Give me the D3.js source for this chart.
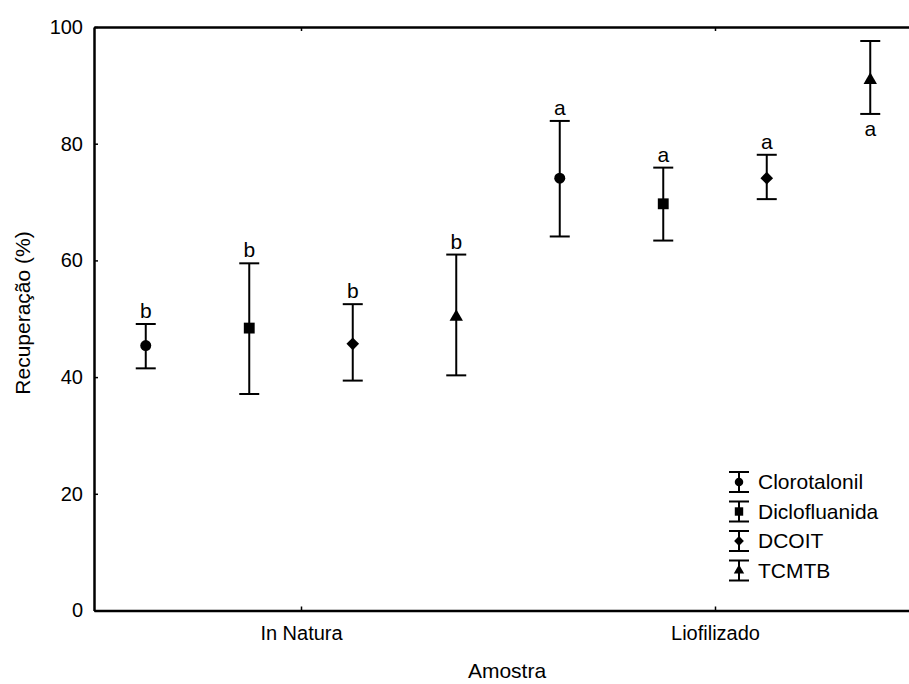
<!DOCTYPE html>
<html>
<head>
<meta charset="utf-8">
<script src="https://cdn.jsdelivr.net/npm/d3@7"></script>
<style>
  body { margin: 0; background: #fff; }
  svg text { font-family: "Liberation Sans", Arial, sans-serif; fill: #000; }
</style>
</head>
<body>
<svg id="chart" width="909" height="684"></svg>
<script>
// categories and series
var groups = ['In Natura', 'Liofilizado'];
var compounds = ['Clorotalonil', 'Diclofluanida', 'DCOIT', 'TCMTB'];
var shapes = ['circle', 'square', 'diamond', 'triangle'];
// mean, lower and upper limits per compound (rows) and group (cols)
var means = [[45.4, 74.1], [48.4, 69.7], [45.7, 74.1], [50.3, 90.9]];
var lowers = [[41.5, 64.1], [37.1, 63.4], [39.4, 70.5], [40.3, 85.1]];
var uppers = [[49.1, 83.9], [59.5, 75.9], [52.5, 78.1], [61.0, 97.6]];
// significance letters
var letters = [['b', 'a'], ['b', 'a'], ['b', 'a'], ['b', 'a']];
var yTicks = [0, 20, 40, 60, 80, 100];

var svg = d3.select('#chart');
var mLeft = 94, mTop = 27, mBottom = 610.5;

var x = d3.scaleLinear().domain([-0.5, 1.5]).range([mLeft, 922]);
var y = d3.scaleLinear().domain([0, 100]).range([mBottom, mTop]);

// flatten data
var data = [];
compounds.forEach(function(c, i) {
  groups.forEach(function(g, j) {
    data.push({ i: i, g: j, pos: j + (i - 1.5) * 0.25, mean: means[i][j],
      lo: lowers[i][j], hi: uppers[i][j], letter: letters[i][j],
      below: (i === 3 && j === 1) });
  });
});

function symbolPath(shape, scale) {
  scale = scale || 1;
  if (shape === 'circle') return d3.symbol(d3.symbolCircle, 95 * scale)();
  if (shape === 'square') return d3.symbol(d3.symbolSquare, 118 * scale)();
  if (shape === 'diamond') {
    var h = 6.3 * Math.sqrt(scale);
    return 'M0,' + (-h) + 'L' + h + ',0L0,' + h + 'L' + (-h) + ',0Z';
  }
  return d3.symbol(d3.symbolTriangle, 78 * scale)();
}

// axes (ticks point inward)
var yAxis = svg.append('g')
  .attr('transform', 'translate(' + mLeft + ',0)')
  .call(d3.axisLeft(y).tickValues(yTicks).tickSize(-4).tickPadding(11).tickSizeOuter(0));
var xAxis = svg.append('g')
  .attr('transform', 'translate(0,' + mBottom + ')')
  .call(d3.axisBottom(x).tickValues([0, 1]).tickFormat(function(d) { return groups[d]; })
    .tickSize(-4).tickPadding(15).tickSizeOuter(0));
var xTop = svg.append('g')
  .attr('transform', 'translate(0,' + mTop + ')')
  .call(d3.axisTop(x).tickValues([0, 1]).tickFormat('').tickSize(-4).tickSizeOuter(0));

[yAxis, xAxis, xTop].forEach(function(a) {
  a.select('.domain').attr('stroke', '#000').attr('stroke-width', 2.5);
  a.selectAll('.tick line').attr('stroke', '#000').attr('stroke-width', 1.5);
  a.selectAll('.tick text').style('font-size', '20px').attr('fill', '#000');
});

// error bars
var bars = svg.append('g').selectAll('g').data(data).enter().append('g')
  .attr('stroke', '#000').attr('stroke-width', 2);
bars.append('line')
  .attr('x1', function(d) { return x(d.pos); }).attr('x2', function(d) { return x(d.pos); })
  .attr('y1', function(d) { return y(d.lo); }).attr('y2', function(d) { return y(d.hi); });
bars.append('line')
  .attr('x1', function(d) { return x(d.pos) - 10; }).attr('x2', function(d) { return x(d.pos) + 10; })
  .attr('y1', function(d) { return y(d.hi); }).attr('y2', function(d) { return y(d.hi); });
bars.append('line')
  .attr('x1', function(d) { return x(d.pos) - 10; }).attr('x2', function(d) { return x(d.pos) + 10; })
  .attr('y1', function(d) { return y(d.lo); }).attr('y2', function(d) { return y(d.lo); });

// markers
svg.append('g').selectAll('path').data(data).enter().append('path')
  .attr('d', function(d) { return symbolPath(shapes[d.i]); })
  .attr('transform', function(d) { return 'translate(' + x(d.pos) + ',' + y(d.mean) + ')'; })
  .attr('fill', '#000');

// letters
svg.append('g').selectAll('text').data(data).enter().append('text')
  .attr('x', function(d) { return x(d.pos); })
  .attr('y', function(d) { return d.below ? y(d.lo) + 22 : y(d.hi) - 6; })
  .attr('text-anchor', 'middle')
  .style('font-size', '21px')
  .text(function(d) { return d.letter; });

// axis titles
svg.append('text')
  .attr('transform', 'translate(30,313) rotate(-90)')
  .attr('text-anchor', 'middle')
  .style('font-size', '21px')
  .text('Recuperação (%)');
svg.append('text')
  .attr('x', 507).attr('y', 678)
  .attr('text-anchor', 'middle')
  .style('font-size', '21px')
  .text('Amostra');

// legend
var legend = svg.append('g').selectAll('g').data(compounds).enter().append('g')
  .attr('transform', function(d, i) { return 'translate(739,' + (482 + i * 29.5) + ')'; });
legend.append('line').attr('x1', 0).attr('x2', 0).attr('y1', -10).attr('y2', 10)
  .attr('stroke', '#000').attr('stroke-width', 2);
legend.append('line').attr('x1', -10).attr('x2', 10).attr('y1', -10).attr('y2', -10)
  .attr('stroke', '#000').attr('stroke-width', 2);
legend.append('line').attr('x1', -10).attr('x2', 10).attr('y1', 10).attr('y2', 10)
  .attr('stroke', '#000').attr('stroke-width', 2);
legend.append('path')
  .attr('d', function(d, i) { return symbolPath(shapes[i], 0.6); })
  .attr('fill', '#000');
legend.append('text')
  .attr('x', 19).attr('y', 7)
  .style('font-size', '21px')
  .text(function(d) { return d; });
</script>
</body>
</html>
